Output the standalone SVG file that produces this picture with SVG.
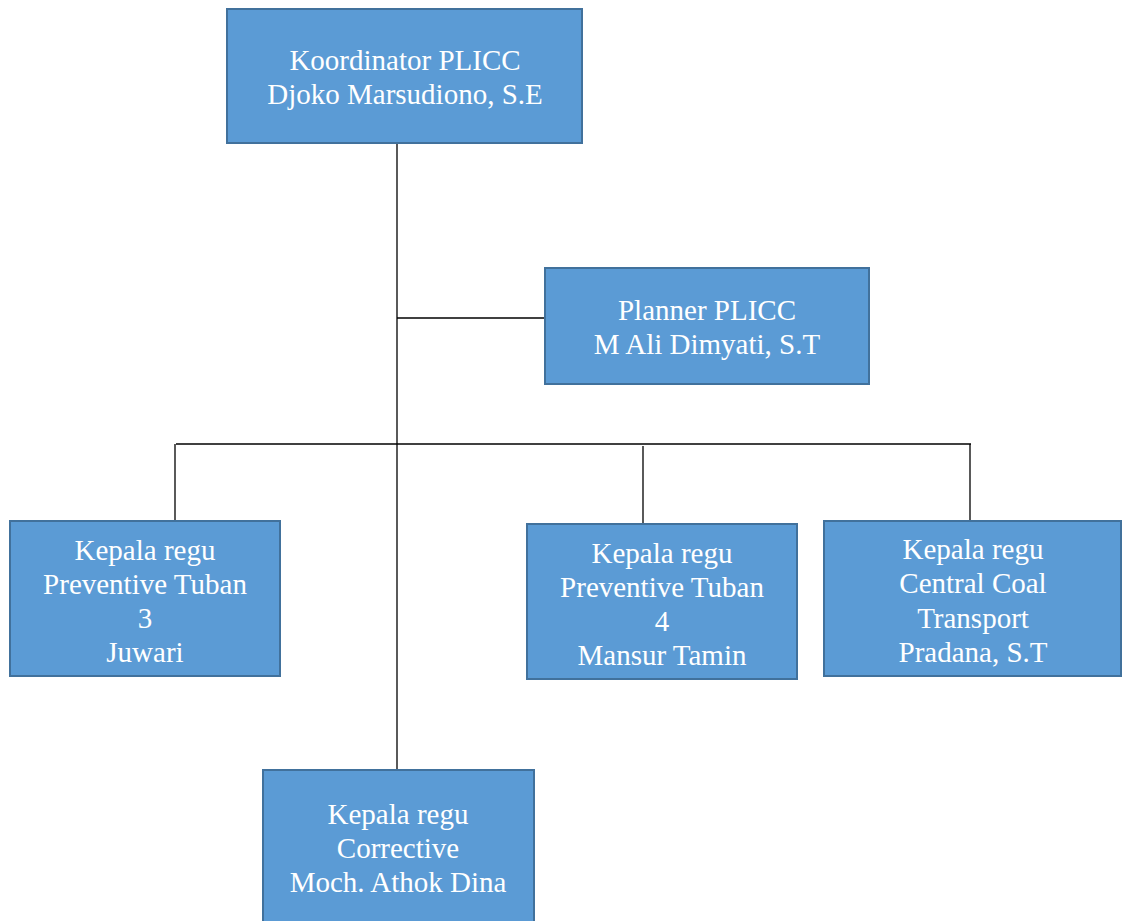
<svg xmlns="http://www.w3.org/2000/svg" width="1122" height="921" viewBox="0 0 1122 921">
<style>
.box{fill:#5b9bd5;stroke:#41719c;stroke-width:2}
.t{font-family:'Liberation Serif','Times New Roman',Tinos,'DejaVu Serif',serif;font-size:29px;fill:#ffffff;text-anchor:middle}
.c{stroke:#000;stroke-width:1.3;fill:none}
</style>
<rect width="1122" height="921" fill="#fff"/>
<g id="connectors">
<line class="c" x1="397" y1="143" x2="397" y2="770"/>
<line class="c" x1="397" y1="318" x2="545" y2="318"/>
<line class="c" x1="176" y1="444" x2="971" y2="444"/>
<line class="c" x1="175" y1="444" x2="175" y2="521"/>
<line class="c" x1="643" y1="446" x2="643" y2="524"/>
<line class="c" x1="970" y1="444" x2="970" y2="521"/>
</g>
<g id="koordinator">
<rect class="box" x="227" y="9" width="355" height="134"/>
<text class="t" x="405" y="70">Koordinator PLICC</text>
<text class="t" x="405" y="104">Djoko Marsudiono, S.E</text>
</g>
<g id="planner">
<rect class="box" x="545" y="268" width="324" height="116"/>
<text class="t" x="707" y="320">Planner PLICC</text>
<text class="t" x="707" y="354">M Ali Dimyati, S.T</text>
</g>
<g id="tuban3">
<rect class="box" x="10" y="521" width="270" height="155"/>
<text class="t" x="145" y="560">Kepala regu</text>
<text class="t" x="145" y="594">Preventive Tuban</text>
<text class="t" x="145" y="628">3</text>
<text class="t" x="145" y="662">Juwari</text>
</g>
<g id="tuban4">
<rect class="box" x="527" y="524" width="270" height="155"/>
<text class="t" x="662" y="563">Kepala regu</text>
<text class="t" x="662" y="597">Preventive Tuban</text>
<text class="t" x="662" y="631">4</text>
<text class="t" x="662" y="665">Mansur Tamin</text>
</g>
<g id="coal">
<rect class="box" x="824" y="521" width="297" height="155"/>
<text class="t" x="973" y="559">Kepala regu</text>
<text class="t" x="973" y="593">Central Coal</text>
<text class="t" x="973" y="628">Transport</text>
<text class="t" x="973" y="662">Pradana, S.T</text>
</g>
<g id="corrective">
<rect class="box" x="263" y="770" width="271" height="160"/>
<text class="t" x="398" y="824">Kepala regu</text>
<text class="t" x="398" y="858">Corrective</text>
<text class="t" x="398" y="892">Moch. Athok Dina</text>
</g>
</svg>
